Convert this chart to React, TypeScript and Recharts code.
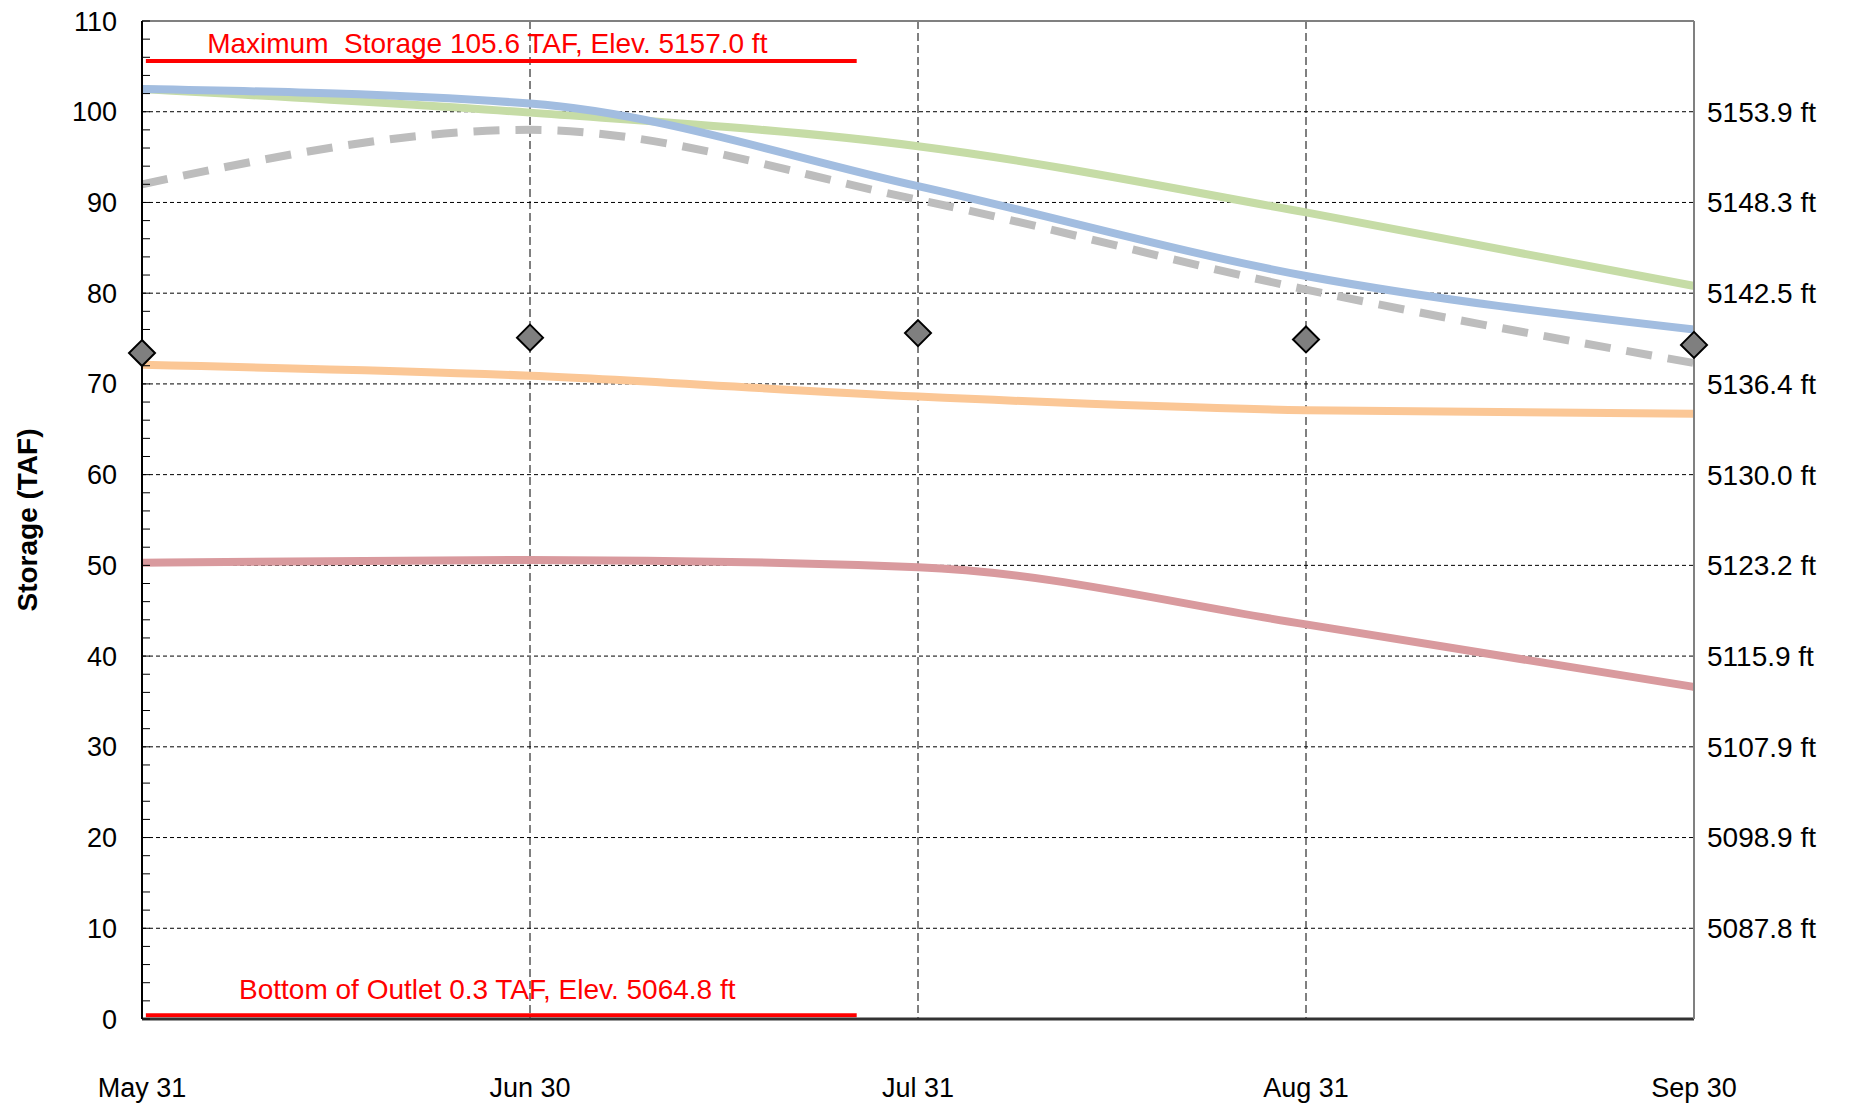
import React from 'react';
import {
  ComposedChart,
  Line,
  XAxis,
  YAxis,
  CartesianGrid,
  ReferenceLine,
  Label,
} from 'recharts';

const months = ['May 31', 'Jun 30', 'Jul 31', 'Aug 31', 'Sep 30'];
const monthPos = [0, 1, 2, 3, 4];

const greenSeries = [102.5, 99.9, 96.2, 88.9, 80.8];
const blueSeries = [102.5, 100.9, 91.8, 81.9, 76.0];
const graySeries = [92.0, 98.0, 90.3, 80.4, 72.3];
const orangeSeries = [72.1, 70.9, 68.6, 67.1, 66.7];
const redSeries = [50.3, 50.6, 49.8, 43.5, 36.6];
const markerSeries = [73.4, 75.1, 75.6, 74.9, 74.3];

const leftTicks = Array.from({ length: 56 }, (_, i) => i * 2);
const rightTicks = [10, 20, 30, 40, 50, 60, 70, 80, 90, 100];
const elevLabels = [
  '5087.8 ft', '5098.9 ft', '5107.9 ft', '5115.9 ft', '5123.2 ft',
  '5130.0 ft', '5136.4 ft', '5142.5 ft', '5148.3 ft', '5153.9 ft',
];
const gridValues = [10, 20, 30, 40, 50, 60, 70, 80, 90, 100];

const maxStorage = 105.6;
const bottomOutlet = 0.4;
const refLineSpan = [0.01, 1.842];

const data = monthPos.map((x, i) => ({
  x,
  green: greenSeries[i],
  blue: blueSeries[i],
  gray: graySeries[i],
  orange: orangeSeries[i],
  red: redSeries[i],
  marker: markerSeries[i],
}));

const FONT = 'Liberation Sans, Arial, sans-serif';

const Diamond = (props: any) => {
  const { cx, cy } = props;
  if (cx == null || cy == null) return null;
  const r = 13;
  return (
    <polygon
      points={`${cx},${cy - r} ${cx + r},${cy} ${cx},${cy + r} ${cx - r},${cy}`}
      fill="#7f7f7f"
      stroke="#000"
      strokeWidth={2}
    />
  );
};

const AxisTitle = (props: any) => {
  const vb = props.viewBox || { x: 0, y: 0, width: 0, height: 0 };
  const cx = 22;
  const cy = vb.y + vb.height / 2;
  return (
    <text
      x={cx}
      y={cy}
      transform={`rotate(-90 ${cx} ${cy})`}
      textAnchor="middle"
      dominantBaseline="middle"
      fontFamily={FONT}
      fontSize={28}
      fontWeight="bold"
      fill="#000"
    >
      Storage (TAF)
    </text>
  );
};

export default function App() {
  return (
    <div style={{ width: 1849, height: 1100 }}>
      <ComposedChart
        width={1849}
        height={1100}
        data={data}
        margin={{ top: 13, right: 0, left: 0, bottom: 0 }}
      >
        <CartesianGrid
          horizontal={true}
          vertical={false}
          horizontalValues={gridValues}
          stroke="#000"
          strokeDasharray="4 3"
          strokeWidth={1}
        />
        <CartesianGrid
          horizontal={false}
          vertical={true}
          verticalValues={[1, 2, 3]}
          stroke="#000"
          strokeDasharray="8 4"
          strokeWidth={1}
        />
        <XAxis
          dataKey="x"
          type="number"
          domain={[0, 4]}
          ticks={monthPos}
          tickFormatter={(v: number) => months[v]}
          height={89}
          tickLine={false}
          tickSize={0}
          tickMargin={59}
          axisLine={{ stroke: '#333', strokeWidth: 3 }}
          tick={{ fontFamily: FONT, fontSize: 27, fill: '#000' }}
          interval={0}
        />
        <YAxis
          type="number"
          domain={[0, 110]}
          ticks={leftTicks}
          interval={0}
          width={134}
          tickSize={-8}
          tickMargin={33}
          tickFormatter={(v: number) => (v % 10 === 0 ? String(v) : '')}
          tickLine={{ stroke: '#000', strokeWidth: 1 }}
          axisLine={{ stroke: '#000', strokeWidth: 2 }}
          tick={{ fontFamily: FONT, fontSize: 27, fill: '#000' }}
          allowDataOverflow
        >
          <Label content={<AxisTitle />} />
        </YAxis>
        <YAxis
          yAxisId="r"
          orientation="right"
          type="number"
          domain={[0, 110]}
          ticks={rightTicks}
          interval={0}
          width={163}
          tickLine={false}
          tickSize={0}
          tickMargin={13}
          tickFormatter={(v: number) => elevLabels[rightTicks.indexOf(v)]}
          axisLine={{ stroke: '#808080', strokeWidth: 2 }}
          tick={{ fontFamily: FONT, fontSize: 28, fill: '#000' }}
          allowDataOverflow
        />
        <ReferenceLine y={110} stroke="#808080" strokeWidth={2} />
        <ReferenceLine
          segment={[
            { x: refLineSpan[0], y: maxStorage },
            { x: refLineSpan[1], y: maxStorage },
          ]}
          stroke="#ff0000"
          strokeWidth={4}
          label={{
            value: 'Maximum\u00A0 Storage 105.6 TAF, Elev. 5157.0 ft',
            position: 'top',
            offset: 8,
            dx: -14,
            fill: '#ff0000',
            fontSize: 28,
            fontFamily: FONT,
          }}
        />
        <ReferenceLine
          segment={[
            { x: refLineSpan[0], y: bottomOutlet },
            { x: refLineSpan[1], y: bottomOutlet },
          ]}
          stroke="#ff0000"
          strokeWidth={4}
          label={{
            value: 'Bottom of Outlet 0.3 TAF, Elev. 5064.8 ft',
            position: 'top',
            offset: 16,
            dx: -14,
            fill: '#ff0000',
            fontSize: 28,
            fontFamily: FONT,
          }}
        />
        <Line type="monotone" dataKey="red" stroke="#d99a9e" strokeWidth={8} dot={false} isAnimationActive={false} />
        <Line type="monotone" dataKey="orange" stroke="#fbc796" strokeWidth={8} dot={false} isAnimationActive={false} />
        <Line type="monotone" dataKey="green" stroke="#c6dca6" strokeWidth={8} dot={false} isAnimationActive={false} />
        <Line type="monotone" dataKey="gray" stroke="#bdbdbd" strokeWidth={8} strokeDasharray="26 16" dot={false} isAnimationActive={false} />
        <Line type="monotone" dataKey="blue" stroke="#a2bde0" strokeWidth={8} dot={false} isAnimationActive={false} />
        <Line dataKey="marker" stroke="none" dot={<Diamond />} activeDot={false} isAnimationActive={false} />
      </ComposedChart>
    </div>
  );
}
